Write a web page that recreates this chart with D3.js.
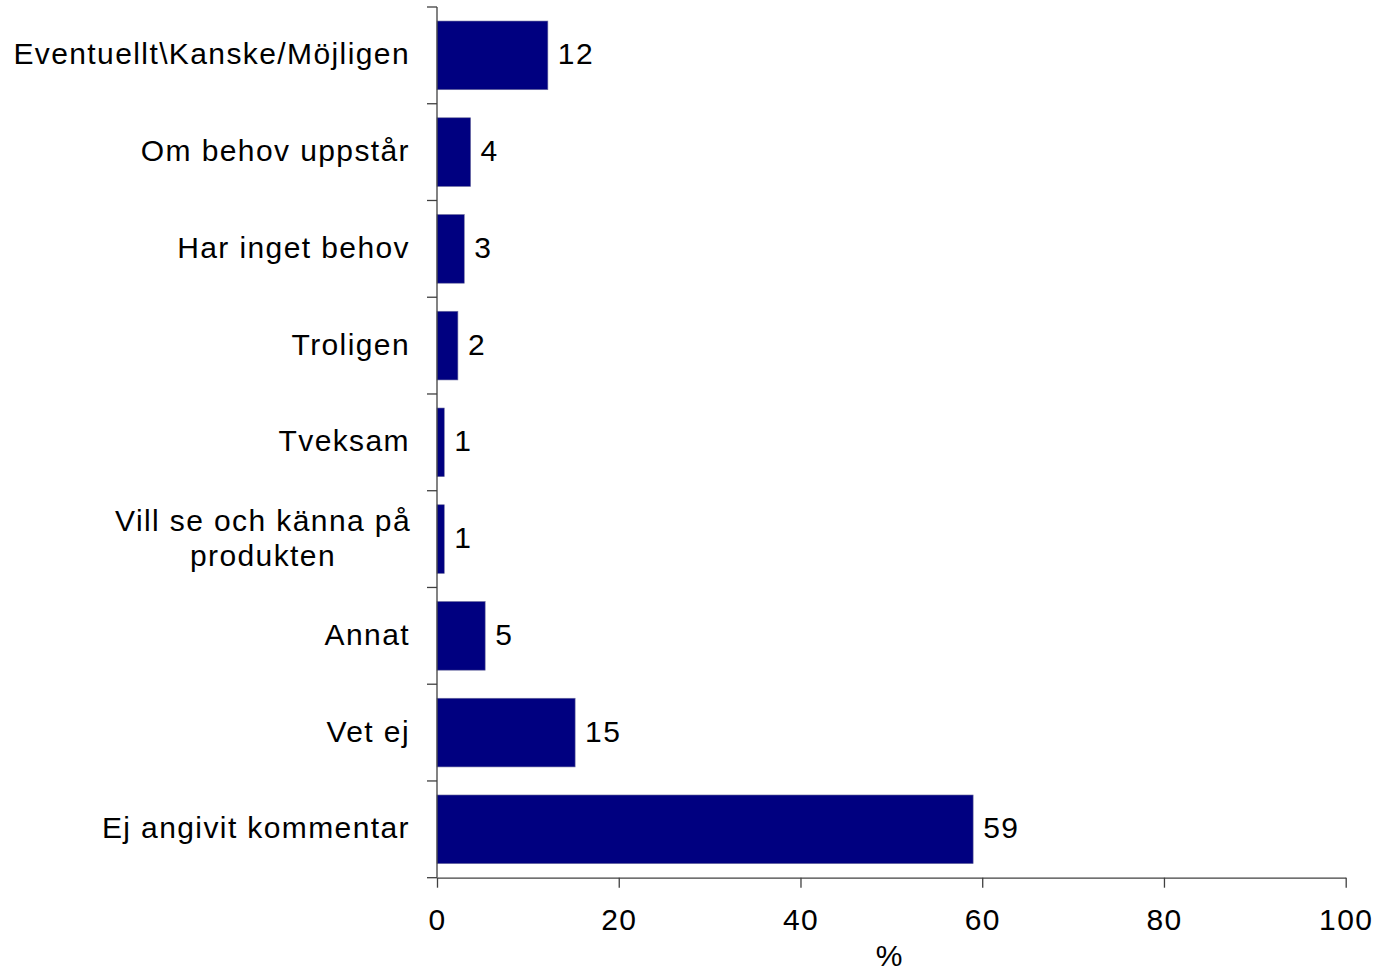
<!DOCTYPE html>
<html><head><meta charset="utf-8">
<script src="https://cdn.jsdelivr.net/npm/d3@7"></script>
<style>body{margin:0;background:#fff;} svg{display:block;}</style>
</head><body>
<script>
const categories = ["Eventuellt\\Kanske/Möjligen","Om behov uppstår","Har inget behov","Troligen","Tveksam","Vill se och känna på produkten","Annat","Vet ej","Ej angivit kommentar"];
const categoryLines = [["Eventuellt\\Kanske/Möjligen"],["Om behov uppstår"],["Har inget behov"],["Troligen"],["Tveksam"],["Vill se och känna på","produkten"],["Annat"],["Vet ej"],["Ej angivit kommentar"]];
const values = [12.2, 3.7, 3.0, 2.3, 0.8, 0.8, 5.3, 15.2, 59.0];
const valueLabels = ["12","4","3","2","1","1","5","15","59"];
const xTicks = [0,20,40,60,80,100];
const xTitle = "%";

const W = 1378, H = 973;
const svg = d3.select("body").append("svg").attr("width", W).attr("height", H);
const font = "'Liberation Sans', Arial, sans-serif";
const fs = 30;
const ls = 1.4;

const x = d3.scaleLinear().domain([0,100]).range([437, 1345.7]);
const y = d3.scaleBand().domain(categories).range([7, 877.7]).paddingInner(0.29).paddingOuter(0.145);

const axisColor = "#404040";
// bars
svg.selectAll("rect.bar").data(categories).join("rect")
  .attr("x", x(0)).attr("y", d => y(d))
  .attr("width", (d,i) => x(values[i]) - x(0))
  .attr("height", y.bandwidth())
  .attr("fill", "#000080").attr("stroke", "#7070a0").attr("stroke-width", 0.6);

// value labels
svg.selectAll("text.val").data(categories).join("text")
  .attr("x", (d,i) => x(values[i]) + 10)
  .attr("y", d => y(d) + y.bandwidth()/2 + 9)
  .attr("font-family", font).attr("font-size", fs).attr("letter-spacing", ls).attr("fill", "#000")
  .text((d,i) => valueLabels[i]);

// y axis line & ticks at band boundaries
const step = y.step();
const y0 = 7;
svg.append("line").attr("x1", 437).attr("x2", 437).attr("y1", y0).attr("y2", 877.7)
  .attr("stroke", axisColor).attr("stroke-width", 1.3);
d3.range(categories.length + 1).forEach(i => {
  svg.append("line").attr("x1", 427).attr("x2", 437)
    .attr("y1", y0 + i*step).attr("y2", y0 + i*step)
    .attr("stroke", axisColor).attr("stroke-width", 1.3);
});

// category labels
categories.forEach((c, i) => {
  const lines = categoryLines[i];
  const cy = y(c) + y.bandwidth()/2;
  const lh = 35;
  const t = svg.append("text").attr("font-family", font).attr("font-size", fs).attr("letter-spacing", ls).attr("fill", "#000")
    .attr("text-anchor", lines.length > 1 ? "middle" : "end");
  if (lines.length === 1) {
    t.attr("x", 410).attr("y", cy + 9).text(lines[0]);
  } else {
    lines.forEach((l, k) => {
      t.append("tspan").attr("x", 263).attr("y", cy + 9 + (k - (lines.length-1)/2)*lh).text(l);
    });
  }
});

// x axis
const xAxis = d3.axisBottom(x).tickValues(xTicks).tickSize(10).tickSizeOuter(0).tickPadding(21);
const gx = svg.append("g").attr("transform", "translate(0,877.7)").call(xAxis);
gx.select(".domain").attr("stroke", axisColor).attr("stroke-width", 1.3);
gx.selectAll(".tick line").attr("stroke", axisColor).attr("stroke-width", 1.3);
gx.selectAll(".tick text").attr("font-family", font).attr("font-size", fs).attr("letter-spacing", ls).attr("fill", "#000");

svg.append("text").attr("x", 889).attr("y", 966).attr("text-anchor","middle")
  .attr("font-family", font).attr("font-size", fs).attr("fill", "#000").text(xTitle);
</script>
</body></html>
